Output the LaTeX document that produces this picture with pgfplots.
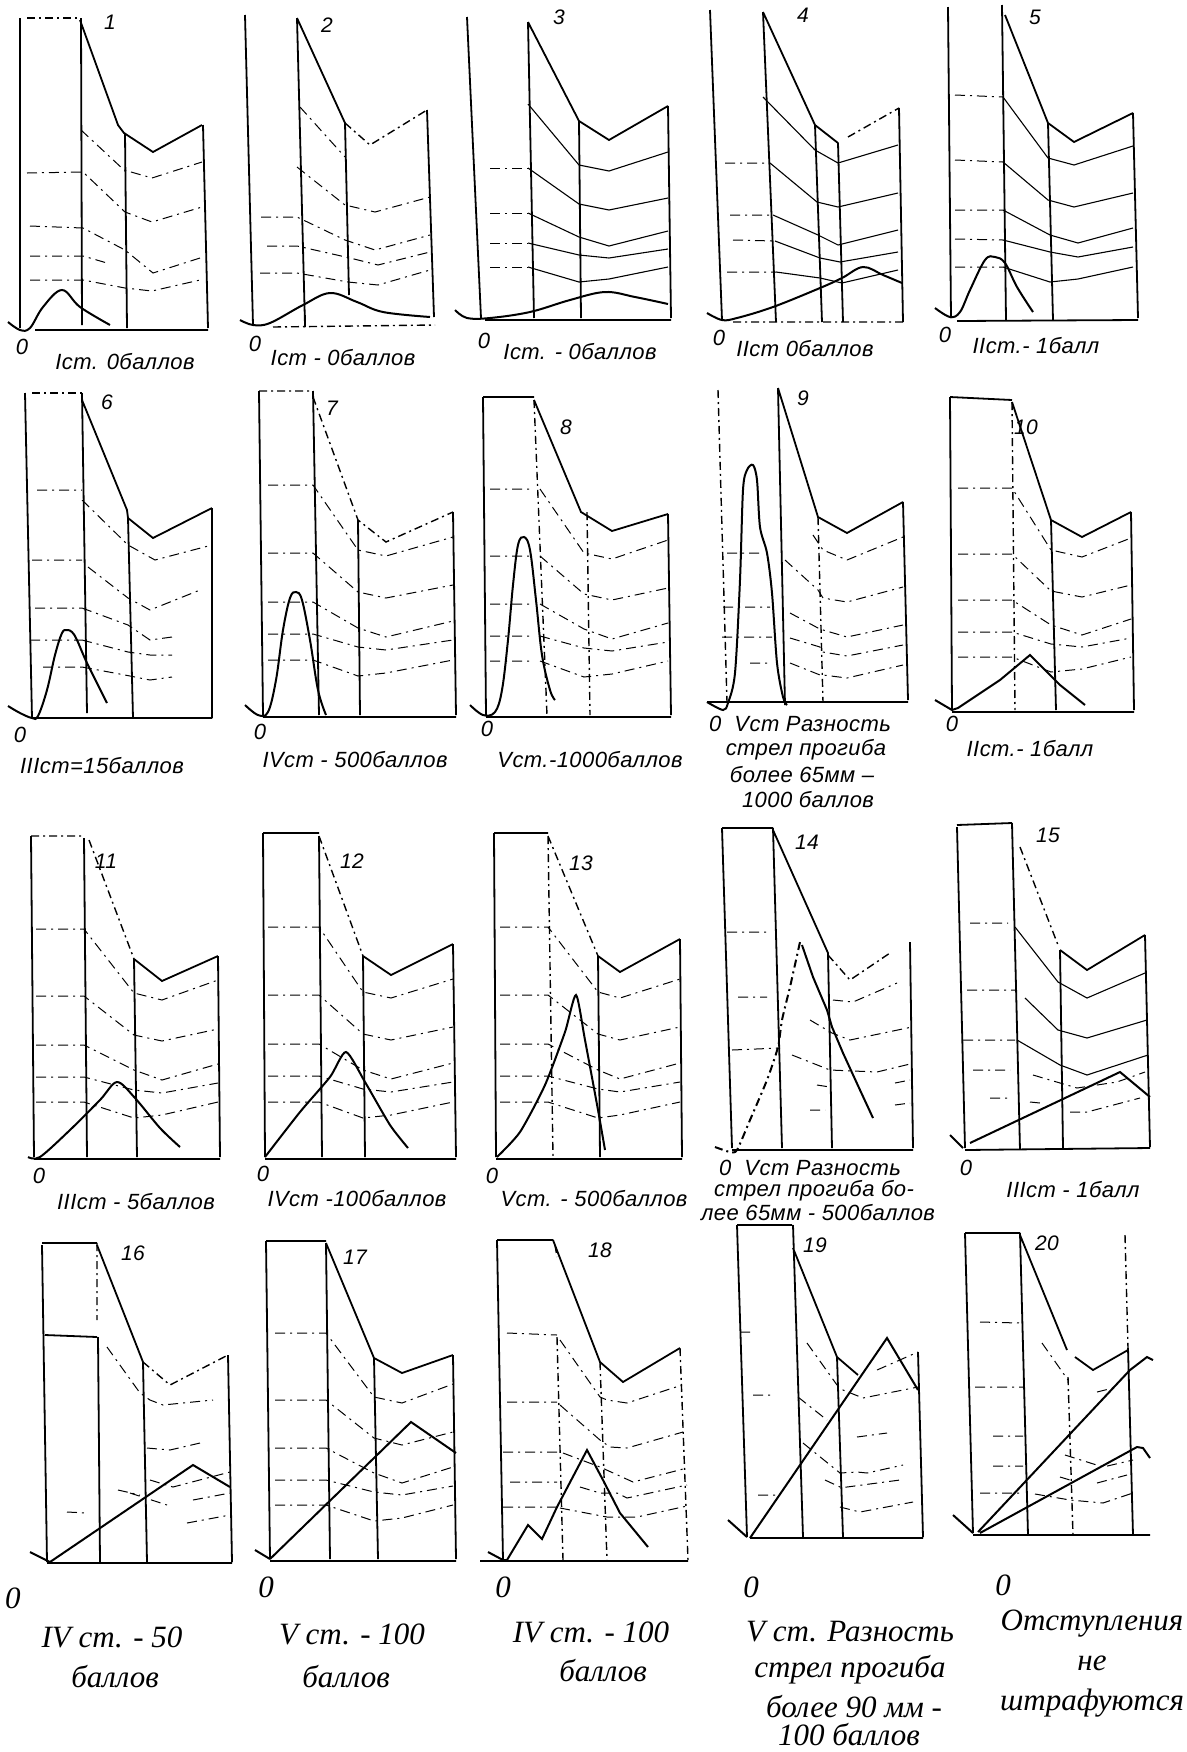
\documentclass[border=0pt]{standalone}
\usepackage{pgfplots}
\pgfplotsset{compat=1.18}
\usepackage{fontspec}
\setmainfont{Liberation Serif}
\newfontfamily\hand{Liberation Sans}[LetterSpace=2.0]
\tikzset{
 fr/.style={black, line width=0.9pt},
 frd/.style={black, line width=0.7pt, dash pattern=on 4pt off 2pt on 1pt off 2pt},
 lv/.style={black, line width=0.5pt, dash pattern=on 5pt off 2.5pt on 1pt off 2.5pt},
 ls/.style={black, line width=0.55pt},
 cv/.style={black, line width=1pt},
 hl/.style={font=\hand\itshape\fontsize{11}{13}\selectfont, inner sep=0pt},
 nm/.style={font=\hand\itshape\fontsize{10.5}{12}\selectfont, inner sep=0pt},
 tl/.style={font=\itshape\fontsize{15.5}{18}\selectfont, inner sep=0pt},
}
\begin{document}
\begin{tikzpicture}
\begin{axis}[scale only axis, width=593.5pt, height=876pt,
  xmin=0, xmax=1187, ymin=0, ymax=1752, y dir=reverse,
  axis lines=none, clip=false, unbounded coords=jump, no markers]
% ===== Panel 1 =====
\addplot[fr] coordinates {(20,18)(20,328) (nan,nan) (81,18)(82,325) (nan,nan) (80,20)(118,125)(124,133)(153,152)(202,125) (nan,nan) (125,133)(127,328) (nan,nan) (203,125)(208,328) (nan,nan) (35,330)(208,330)};
\addplot[frd] coordinates {(27,18)(80,18)};
\addplot[lv] coordinates {(81,130)(124,170)(152,178)(202,162) (nan,nan) (27,173)(83,172)(125,212)(152,222)(202,207) (nan,nan) (30,226)(83,228)(125,250)(153,273)(200,258) (nan,nan) (30,256)(83,256)(107,263) (nan,nan) (30,280)(83,280)(125,288)(152,291)(200,280)};
\addplot[cv, smooth, tension=0.6] coordinates {(8,322)(20,330)(30,328)(43,307)(62,290)(80,307)(110,325)};
% ===== Panel 2 =====
\addplot[fr] coordinates {(245,15)(253,325) (nan,nan) (297,18)(305,325) (nan,nan) (297,18)(345,123) (nan,nan) (345,123)(349,295) (nan,nan) (427,110)(434,317) (nan,nan) (305,315)(305,327)};
\addplot[frd] coordinates {(345,123)(370,145)(427,110) (nan,nan) (273,327)(435,325)};
\addplot[lv] coordinates {(300,107)(345,157) (nan,nan) (297,167)(345,205)(375,212)(430,197) (nan,nan) (261,217)(297,217)(345,240)(375,250)(430,235) (nan,nan) (267,246)(297,246)(350,258)(378,265)(430,252) (nan,nan) (260,273)(297,273)(348,282)(378,285)(430,270)};
\addplot[cv, smooth, tension=0.6] coordinates {(240,320)(253,325)(270,323)(303,305)(330,293)(357,302)(383,312)(430,317)};
% ===== Panel 3 =====
\addplot[fr] coordinates {(467,17)(481,318) (nan,nan) (528,22)(534,318) (nan,nan) (528,22)(579,121)(609,140)(668,106) (nan,nan) (579,121)(581,318) (nan,nan) (668,106)(671,318) (nan,nan) (485,320)(671,320)};
\addplot[lv] coordinates {(490,168)(528,168) (nan,nan) (490,213)(528,213) (nan,nan) (490,243)(528,243) (nan,nan) (490,267)(528,267)};
\addplot[ls] coordinates {(528,104)(579,165)(609,171)(668,152) (nan,nan) (528,168)(579,204)(609,210)(668,198) (nan,nan) (528,213)(579,237)(609,246)(668,231) (nan,nan) (528,243)(579,255)(609,258)(668,249) (nan,nan) (528,267)(579,282)(609,279)(668,267)};
\addplot[cv, smooth, tension=0.6] coordinates {(455,310)(467,318)(490,318)(530,312)(570,300)(605,292)(635,297)(668,304)};
% ===== Panel 4 =====
\addplot[fr] coordinates {(710,10)(722,320) (nan,nan) (763,12)(776,322) (nan,nan) (763,12)(815,125)(838,143) (nan,nan) (815,125)(822,322) (nan,nan) (838,143)(843,322) (nan,nan) (899,108)(903,322)};
\addplot[frd] coordinates {(733,322)(903,322) (nan,nan) (848,137)(899,108)};
\addplot[lv] coordinates {(725,163)(770,163) (nan,nan) (730,215)(773,215) (nan,nan) (733,240)(775,241) (nan,nan) (727,272)(776,272)};
\addplot[ls] coordinates {(763,97)(815,150)(838,163)(898,145) (nan,nan) (770,163)(817,202)(838,207)(898,193) (nan,nan) (773,215)(818,235)(838,245)(898,230) (nan,nan) (775,241)(820,258)(840,262)(898,252) (nan,nan) (776,272)(820,278)(842,283)(898,270)};
\addplot[cv, smooth, tension=0.6] coordinates {(707,313)(722,320)(737,318)(773,307)(820,288)(842,278)(863,267)(883,275)(902,283)};
% ===== Panel 5 =====
\addplot[fr] coordinates {(948,7)(951,318) (nan,nan) (1002,5)(1006,320) (nan,nan) (1005,15)(1048,123)(1074,142)(1133,113) (nan,nan) (1048,123)(1053,320) (nan,nan) (1133,113)(1138,318) (nan,nan) (957,321)(1138,320)};
\addplot[lv] coordinates {(955,95)(1003,97) (nan,nan) (955,160)(1003,162) (nan,nan) (955,210)(1003,210) (nan,nan) (955,239)(1003,240) (nan,nan) (955,267)(1003,267)};
\addplot[ls] coordinates {(1003,97)(1048,158)(1074,165)(1133,146) (nan,nan) (1003,162)(1048,200)(1074,207)(1133,193) (nan,nan) (1003,210)(1050,235)(1078,243)(1133,228) (nan,nan) (1003,240)(1050,252)(1078,257)(1133,247) (nan,nan) (1003,267)(1050,282)(1078,279)(1133,267)};
\addplot[cv, smooth, tension=0.6] coordinates {(935,308)(950,317)(960,312)(970,290)(985,260)(995,257)(1005,263)(1017,287)(1033,312)};
% ===== Panel 6 =====
\addplot[fr] coordinates {(25,393)(32,718) (nan,nan) (82,393)(87,713) (nan,nan) (82,400)(127,510)(128,518)(153,538)(212,508) (nan,nan) (128,518)(133,718) (nan,nan) (212,508)(212,718) (nan,nan) (32,718)(212,718)};
\addplot[frd] coordinates {(32,393)(82,393)};
\addplot[lv] coordinates {(37,490)(82,490) (nan,nan) (32,560)(82,560) (nan,nan) (35,608)(82,608) (nan,nan) (30,640)(82,640) (nan,nan) (43,667)(82,667) (nan,nan) (82,500)(128,545)(155,560)(212,545) (nan,nan) (88,567)(128,598)(150,610)(200,590) (nan,nan) (82,608)(128,625)(150,640)(172,637) (nan,nan) (82,640)(128,652)(150,655)(172,655) (nan,nan) (82,667)(125,675)(150,680)(172,677)};
\addplot[cv, smooth, tension=0.6] coordinates {(8,706)(20,713)(32,718)(38,716)(47,690)(55,655)(62,633)(67,630)(72,632)(77,640)(87,663)(107,703)};
% ===== Panel 7 =====
\addplot[fr] coordinates {(259,391)(263,715) (nan,nan) (313,391)(319,715) (nan,nan) (358,520)(360,715) (nan,nan) (453,512)(456,715) (nan,nan) (263,717)(456,717)};
\addplot[frd] coordinates {(259,391)(313,391) (nan,nan) (313,397)(358,520)(386,542)(453,512)};
\addplot[lv] coordinates {(268,485)(313,485)(358,550)(386,556)(453,537) (nan,nan) (268,553)(313,553)(358,592)(386,598)(453,585) (nan,nan) (268,602)(313,602)(358,628)(386,637)(453,621) (nan,nan) (268,634)(313,634)(358,647)(386,650)(453,640) (nan,nan) (268,660)(313,660)(358,676)(386,673)(453,660)};
\addplot[cv, smooth, tension=0.6] coordinates {(245,705)(258,715)(268,712)(276,680)(283,630)(290,598)(296,592)(302,600)(310,640)(318,690)(326,715)};
% ===== Panel 8 =====
\addplot[fr] coordinates {(483,397)(486,715) (nan,nan) (483,397)(534,397) (nan,nan) (534,400)(581,512)(612,531)(668,514) (nan,nan) (668,514)(671,715) (nan,nan) (486,717)(671,717)};
\addplot[frd] coordinates {(534,400)(547,715) (nan,nan) (587,512)(590,715)};
\addplot[lv] coordinates {(490,489)(534,489) (nan,nan) (490,556)(534,556) (nan,nan) (490,604)(534,604) (nan,nan) (490,636)(534,636) (nan,nan) (490,661)(534,661) (nan,nan) (540,489)(584,553)(612,559)(668,540) (nan,nan) (540,556)(584,594)(612,600)(668,588) (nan,nan) (540,604)(584,629)(612,639)(668,623) (nan,nan) (540,636)(584,648)(612,651)(668,642) (nan,nan) (540,661)(584,677)(612,674)(668,661)};
\addplot[cv, smooth, tension=0.6] coordinates {(470,705)(483,715)(495,712)(502,690)(508,640)(513,585)(518,545)(524,537)(530,550)(536,600)(542,655)(550,690)(555,700)};
% ===== Panel 9 =====
\addplot[fr] coordinates {(778,388)(785,705) (nan,nan) (778,388)(818,517)(847,533)(903,502) (nan,nan) (903,502)(908,700) (nan,nan) (707,702)(908,702)};
\addplot[frd] coordinates {(718,390)(727,702) (nan,nan) (818,517)(823,702)};
\addplot[lv] coordinates {(727,553)(763,553) (nan,nan) (723,607)(770,607) (nan,nan) (722,637)(772,637) (nan,nan) (750,663)(770,663) (nan,nan) (813,535)(823,550)(847,560)(903,537) (nan,nan) (785,560)(818,590)(823,598)(847,602)(903,587) (nan,nan) (790,613)(818,628)(823,630)(847,637)(903,625) (nan,nan) (790,638)(820,647)(823,652)(847,656)(903,645) (nan,nan) (790,663)(820,675)(823,675)(847,678)(903,665)};
\addplot[cv, smooth, tension=0.5] coordinates {(707,702)(723,710)(728,703)(735,673)(740,580)(743,490)(747,470)(753,465)(757,480)(760,527)(767,553)(772,593)(777,663)(783,697)(787,705)};
% ===== Panel 10 =====
\addplot[fr] coordinates {(950,397)(952,710) (nan,nan) (950,397)(1012,400) (nan,nan) (1012,402)(1051,520)(1082,537)(1131,512) (nan,nan) (1051,520)(1056,710) (nan,nan) (1131,512)(1134,710) (nan,nan) (952,712)(1134,712)};
\addplot[frd] coordinates {(1012,402)(1015,710)};
\addplot[lv] coordinates {(958,488)(1012,488)(1051,550)(1082,557)(1131,538) (nan,nan) (958,554)(1012,554)(1051,591)(1082,597)(1131,585) (nan,nan) (958,600)(1012,600)(1051,625)(1082,635)(1131,619) (nan,nan) (958,632)(1012,632)(1051,644)(1082,647)(1131,638) (nan,nan) (958,657)(1012,657)(1051,672)(1082,669)(1131,657)};
\addplot[cv] coordinates {(935,700)(952,710)(958,708)(1000,680)(1030,655)(1060,685)(1085,705)};
% ===== Panel 11 =====
\addplot[fr] coordinates {(31,836)(34,1157) (nan,nan) (84,838)(87,1157) (nan,nan) (134,959)(162,981)(218,956) (nan,nan) (134,959)(137,1157) (nan,nan) (218,956)(220,1157) (nan,nan) (34,1159)(220,1159)};
\addplot[frd] coordinates {(31,836)(84,836) (nan,nan) (89,840)(134,959)};
\addplot[lv] coordinates {(36,929)(84,929)(134,993)(162,1000)(218,980) (nan,nan) (36,996)(84,996)(134,1035)(162,1041)(218,1029) (nan,nan) (36,1045)(84,1045)(134,1070)(162,1080)(218,1064) (nan,nan) (36,1077)(84,1077)(134,1090)(162,1093)(218,1083) (nan,nan) (36,1102)(84,1102)(134,1118)(162,1115)(218,1102)};
\addplot[cv, smooth, tension=0.5] coordinates {(28,1157)(40,1157)(70,1130)(100,1100)(117,1082)(135,1098)(160,1128)(180,1147)};
% ===== Panel 12 =====
\addplot[fr] coordinates {(263,833)(265,1157) (nan,nan) (263,833)(319,833) (nan,nan) (319,836)(322,1157) (nan,nan) (363,956)(391,975)(453,944) (nan,nan) (363,956)(365,1157) (nan,nan) (453,944)(456,1157) (nan,nan) (265,1159)(456,1159)};
\addplot[frd] coordinates {(319,836)(363,956)};
\addplot[lv] coordinates {(268,927)(319,927)(363,992)(391,998)(453,979) (nan,nan) (268,995)(319,995)(363,1034)(391,1040)(453,1027) (nan,nan) (268,1044)(319,1044)(363,1070)(391,1079)(453,1063) (nan,nan) (268,1076)(319,1076)(363,1089)(391,1092)(453,1082) (nan,nan) (268,1102)(319,1102)(363,1118)(391,1115)(453,1102)};
\addplot[cv, smooth, tension=0.4] coordinates {(265,1157)(300,1112)(330,1077)(346,1052)(365,1082)(390,1125)(408,1148)};
% ===== Panel 13 =====
\addplot[fr] coordinates {(494,833)(496,1157) (nan,nan) (494,833)(548,833) (nan,nan) (598,956)(620,972)(680,939) (nan,nan) (598,956)(600,1157) (nan,nan) (680,939)(682,1157) (nan,nan) (496,1159)(682,1159)};
\addplot[frd] coordinates {(548,836)(553,1157) (nan,nan) (548,836)(598,956)};
\addplot[lv] coordinates {(500,927)(548,927)(598,992)(620,998)(680,979) (nan,nan) (500,995)(548,995)(598,1034)(620,1040)(680,1027) (nan,nan) (500,1044)(548,1044)(598,1070)(620,1079)(680,1063) (nan,nan) (500,1076)(548,1076)(598,1089)(620,1092)(680,1082) (nan,nan) (500,1102)(548,1102)(598,1118)(620,1115)(680,1102)};
\addplot[cv, smooth, tension=0.4] coordinates {(497,1157)(520,1132)(545,1085)(565,1032)(576,995)(585,1040)(598,1110)(605,1150)};
% ===== Panel 14 =====
\addplot[fr] coordinates {(722,828)(732,1148) (nan,nan) (722,828)(773,828) (nan,nan) (773,828)(782,1148) (nan,nan) (773,830)(828,953) (nan,nan) (828,953)(832,1148) (nan,nan) (910,942)(913,1148) (nan,nan) (732,1150)(913,1150)};
\addplot[frd] coordinates {(828,955)(850,980)(890,953)};
\addplot[lv] coordinates {(727,932)(767,932) (nan,nan) (738,997)(767,997) (nan,nan) (732,1050)(780,1048) (nan,nan) (833,1000)(853,1002)(897,983) (nan,nan) (810,1020)(832,1033)(850,1040)(912,1027) (nan,nan) (792,1055)(830,1070)(877,1072)(910,1064) (nan,nan) (817,1085)(830,1087) (nan,nan) (895,1083)(910,1080) (nan,nan) (810,1110)(825,1110) (nan,nan) (895,1105)(910,1103)};
\addplot[frd, line width=1pt, smooth, tension=0.4] coordinates {(715,1147)(730,1152)(737,1150)(750,1120)(767,1080)(778,1047)(782,1020)(790,987)(800,942)};
\addplot[cv] coordinates {(802,945)(813,977)(827,1010)(832,1027)(843,1053)(860,1090)(873,1118)};
% ===== Panel 15 =====
\addplot[fr] coordinates {(957,827)(965,1148) (nan,nan) (957,825)(1012,823) (nan,nan) (1012,823)(1020,1150) (nan,nan) (1060,950)(1087,970)(1145,935) (nan,nan) (1060,950)(1063,1148) (nan,nan) (1145,935)(1150,1147) (nan,nan) (965,1150)(1150,1148)};
\addplot[frd] coordinates {(1020,847)(1058,945)};
\addplot[lv] coordinates {(970,923)(1008,923) (nan,nan) (967,990)(1015,990) (nan,nan) (963,1040)(1015,1040) (nan,nan) (973,1070)(1010,1070) (nan,nan) (990,1098)(1008,1098) (nan,nan) (1033,1075)(1077,1088)(1117,1082)(1145,1072) (nan,nan) (1030,1102)(1040,1103) (nan,nan) (1070,1112)(1087,1112)(1140,1098)};
\addplot[ls] coordinates {(1015,927)(1058,982)(1087,998)(1145,973) (nan,nan) (1025,998)(1058,1030)(1087,1038)(1147,1020) (nan,nan) (1017,1040)(1060,1065)(1087,1075)(1148,1055)};
\addplot[cv] coordinates {(950,1135)(963,1148) (nan,nan) (970,1143)(1120,1072)(1150,1097)};
% ===== Panel 16 =====
\addplot[fr] coordinates {(42,1245)(47,1562) (nan,nan) (42,1243)(97,1243) (nan,nan) (45,1335)(97,1337) (nan,nan) (98,1337)(100,1562) (nan,nan) (97,1245)(143,1362) (nan,nan) (143,1362)(147,1562) (nan,nan) (228,1355)(232,1562) (nan,nan) (47,1563)(232,1563)};
\addplot[frd] coordinates {(97,1243)(97,1320) (nan,nan) (143,1362)(170,1385)(228,1355)};
\addplot[lv] coordinates {(107,1347)(140,1393)(150,1400)(163,1405)(213,1400) (nan,nan) (147,1448)(170,1450)(200,1443) (nan,nan) (118,1490)(140,1495) (nan,nan) (150,1480)(173,1487)(230,1472) (nan,nan) (130,1493)(167,1505) (nan,nan) (193,1500)(230,1493) (nan,nan) (67,1512)(87,1513) (nan,nan) (187,1523)(230,1515)};
\addplot[cv] coordinates {(30,1552)(50,1562) (nan,nan) (50,1562)(193,1465)(230,1487)};
% ===== Panel 17 =====
\addplot[fr] coordinates {(266,1241)(270,1559) (nan,nan) (266,1241)(326,1241) (nan,nan) (326,1243)(330,1559) (nan,nan) (326,1243)(374,1358)(402,1373)(453,1355) (nan,nan) (374,1358)(378,1559) (nan,nan) (453,1355)(456,1559) (nan,nan) (270,1561)(456,1561)};
\addplot[lv] coordinates {(275,1333)(326,1333)(374,1397)(402,1403)(453,1384) (nan,nan) (275,1400)(326,1400)(374,1438)(402,1445)(453,1432) (nan,nan) (275,1448)(326,1448)(374,1473)(402,1483)(453,1467) (nan,nan) (275,1480)(326,1480)(374,1492)(402,1495)(453,1486) (nan,nan) (275,1505)(326,1505)(374,1521)(402,1518)(453,1505)};
\addplot[cv] coordinates {(255,1550)(270,1559) (nan,nan) (270,1559)(411,1422)(456,1453)};
% ===== Panel 18 =====
\addplot[fr] coordinates {(497,1240)(503,1560) (nan,nan) (497,1240)(553,1240) (nan,nan) (553,1240)(600,1362)(623,1382)(680,1348) (nan,nan) (480,1561)(688,1561)};
\addplot[frd] coordinates {(557,1337)(563,1560) (nan,nan) (600,1362)(607,1560) (nan,nan) (680,1348)(688,1560) (nan,nan) (555,1245)(557,1257)};
\addplot[lv] coordinates {(507,1333)(557,1335) (nan,nan) (507,1402)(557,1402) (nan,nan) (503,1452)(560,1452) (nan,nan) (510,1482)(557,1482) (nan,nan) (503,1507)(557,1507) (nan,nan) (560,1340)(600,1397)(607,1400)(627,1403)(682,1385) (nan,nan) (560,1405)(600,1440)(610,1447)(627,1448)(683,1432) (nan,nan) (563,1453)(600,1467)(633,1482)(660,1475)(687,1468) (nan,nan) (580,1487)(600,1493)(617,1493)(627,1498)(687,1485) (nan,nan) (560,1508)(607,1517)(637,1517)(687,1506)};
\addplot[cv] coordinates {(488,1552)(503,1560)(507,1560)(528,1525)(542,1539)(557,1507)(587,1450)(603,1480)(620,1513)(648,1547)};
% ===== Panel 19 =====
\addplot[fr] coordinates {(737,1225)(747,1537) (nan,nan) (737,1225)(792,1225) (nan,nan) (793,1225)(803,1537) (nan,nan) (793,1248)(837,1357)(858,1375) (nan,nan) (837,1357)(843,1537) (nan,nan) (918,1352)(923,1537) (nan,nan) (750,1538)(923,1538)};
\addplot[lv] coordinates {(877,1370)(918,1352) (nan,nan) (740,1332)(750,1332) (nan,nan) (753,1395)(770,1395) (nan,nan) (758,1495)(777,1495) (nan,nan) (807,1343)(837,1385)(843,1390)(863,1398)(918,1387) (nan,nan) (798,1397)(827,1420) (nan,nan) (857,1437)(887,1433) (nan,nan) (803,1443)(840,1473)(857,1472)(867,1473)(903,1465) (nan,nan) (825,1480)(840,1487)(847,1487)(900,1480) (nan,nan) (840,1507)(860,1512)(913,1502)};
\addplot[cv] coordinates {(728,1520)(747,1537) (nan,nan) (750,1538)(887,1338)(918,1390)};
% ===== Panel 20 =====
\addplot[fr] coordinates {(965,1233)(973,1533) (nan,nan) (965,1233)(1020,1233) (nan,nan) (1020,1233)(1028,1535) (nan,nan) (1020,1235)(1067,1350) (nan,nan) (1128,1348)(1133,1535) (nan,nan) (1075,1357)(1093,1370)(1128,1350) (nan,nan) (973,1535)(1150,1535)};
\addplot[frd] coordinates {(1068,1377)(1073,1535) (nan,nan) (1125,1235)(1128,1348)};
\addplot[lv] coordinates {(980,1322)(1020,1323) (nan,nan) (975,1387)(1023,1387) (nan,nan) (993,1436)(1023,1436) (nan,nan) (993,1466)(1023,1466) (nan,nan) (980,1493)(1023,1493) (nan,nan) (1042,1343)(1068,1380) (nan,nan) (1097,1392)(1113,1388) (nan,nan) (1065,1455)(1103,1467)(1133,1460) (nan,nan) (1060,1477)(1070,1480) (nan,nan) (1097,1483)(1127,1475) (nan,nan) (1035,1494)(1070,1500)(1103,1503)(1133,1493)};
\addplot[cv] coordinates {(953,1515)(973,1533) (nan,nan) (978,1532)(1130,1370)(1147,1357)(1153,1360) (nan,nan) (980,1533)(1137,1447)(1143,1448)(1150,1458)};
% ===== numbers =====
\node[nm] at (axis cs:110,22) {1};
\node[nm] at (axis cs:327,25) {2};
\node[nm] at (axis cs:559,17) {3};
\node[nm] at (axis cs:803,15) {4};
\node[nm] at (axis cs:1035,17) {5};
\node[nm] at (axis cs:107,402) {6};
\node[nm] at (axis cs:332,408) {7};
\node[nm] at (axis cs:566,427) {8};
\node[nm] at (axis cs:803,398) {9};
\node[nm] at (axis cs:1026,427) {10};
\node[nm] at (axis cs:106,861) {11};
\node[nm] at (axis cs:352,861) {12};
\node[nm] at (axis cs:581,863) {13};
\node[nm] at (axis cs:807,842) {14};
\node[nm] at (axis cs:1048,835) {15};
\node[nm] at (axis cs:133,1253) {16};
\node[nm] at (axis cs:355,1257) {17};
\node[nm] at (axis cs:600,1250) {18};
\node[nm] at (axis cs:815,1245) {19};
\node[nm] at (axis cs:1047,1243) {20};
% ===== labels rows 1-3 =====
\node[hl] at (axis cs:22,347) {0};
\node[hl] at (axis cs:125,362) {Iст. 0баллов};
\node[hl] at (axis cs:255,344) {0};
\node[hl] at (axis cs:343,358) {Iст - 0баллов};
\node[hl] at (axis cs:484,341) {0};
\node[hl] at (axis cs:580,352) {Iст. - 0баллов};
\node[hl] at (axis cs:719,338) {0};
\node[hl] at (axis cs:805,349) {IIст 0баллов};
\node[hl] at (axis cs:945,335) {0};
\node[hl] at (axis cs:1036,346) {IIст.- 1балл};
\node[hl] at (axis cs:20,735) {0};
\node[hl] at (axis cs:102,766) {IIIст=15баллов};
\node[hl] at (axis cs:260,732) {0};
\node[hl] at (axis cs:355,760) {IVст - 500баллов};
\node[hl] at (axis cs:487,729) {0};
\node[hl] at (axis cs:590,760) {Vст.-1000баллов};
\node[hl] at (axis cs:800,724) {0\ \ Vст Разность};
\node[hl] at (axis cs:806,750) {стрел прогиба};
\node[hl] at (axis cs:802,775) {более 65мм –};
\node[hl] at (axis cs:808,800) {1000 баллов};
\node[hl] at (axis cs:952,724) {0};
\node[hl] at (axis cs:1030,749) {IIст.- 1балл};
\node[hl] at (axis cs:39,1176) {0};
\node[hl] at (axis cs:136,1202) {IIIст - 5баллов};
\node[hl] at (axis cs:263,1174) {0};
\node[hl] at (axis cs:357,1199) {IVст -100баллов};
\node[hl] at (axis cs:492,1176) {0};
\node[hl] at (axis cs:594,1199) {Vст. - 500баллов};
\node[hl] at (axis cs:810,1168) {0\ \ Vст Разность};
\node[hl] at (axis cs:814,1191) {стрел прогиба бо-};
\node[hl] at (axis cs:818,1213) {лее 65мм - 500баллов};
\node[hl] at (axis cs:966,1168) {0};
\node[hl] at (axis cs:1073,1190) {IIIст - 1балл};
% ===== labels row 4 =====
\node[tl] at (axis cs:13,1598) {0};
\node[tl] at (axis cs:112,1637) {IV ст. - 50};
\node[tl] at (axis cs:115,1677) {баллов};
\node[tl] at (axis cs:266,1587) {0};
\node[tl] at (axis cs:352,1634) {V ст. - 100};
\node[tl] at (axis cs:346,1677) {баллов};
\node[tl] at (axis cs:503,1587) {0};
\node[tl] at (axis cs:591,1632) {IV ст. - 100};
\node[tl] at (axis cs:603,1671) {баллов};
\node[tl] at (axis cs:751,1587) {0};
\node[tl] at (axis cs:850,1632) {V ст. Разность};
\node[tl] at (axis cs:850,1670) {стрел прогиба};
\node[tl] at (axis cs:854,1707) {более 90 мм -};
\node[tl] at (axis cs:849,1735) {100 баллов};
\node[tl] at (axis cs:1003,1585) {0};
\node[tl] at (axis cs:1092,1624) {Отступления};
\node[tl] at (axis cs:1092,1663) {не};
\node[tl] at (axis cs:1092,1703) {штрафуются};
\end{axis}
\pgfresetboundingbox
\path (0,0) rectangle (593.5pt,876pt);
\end{tikzpicture}
\end{document}
